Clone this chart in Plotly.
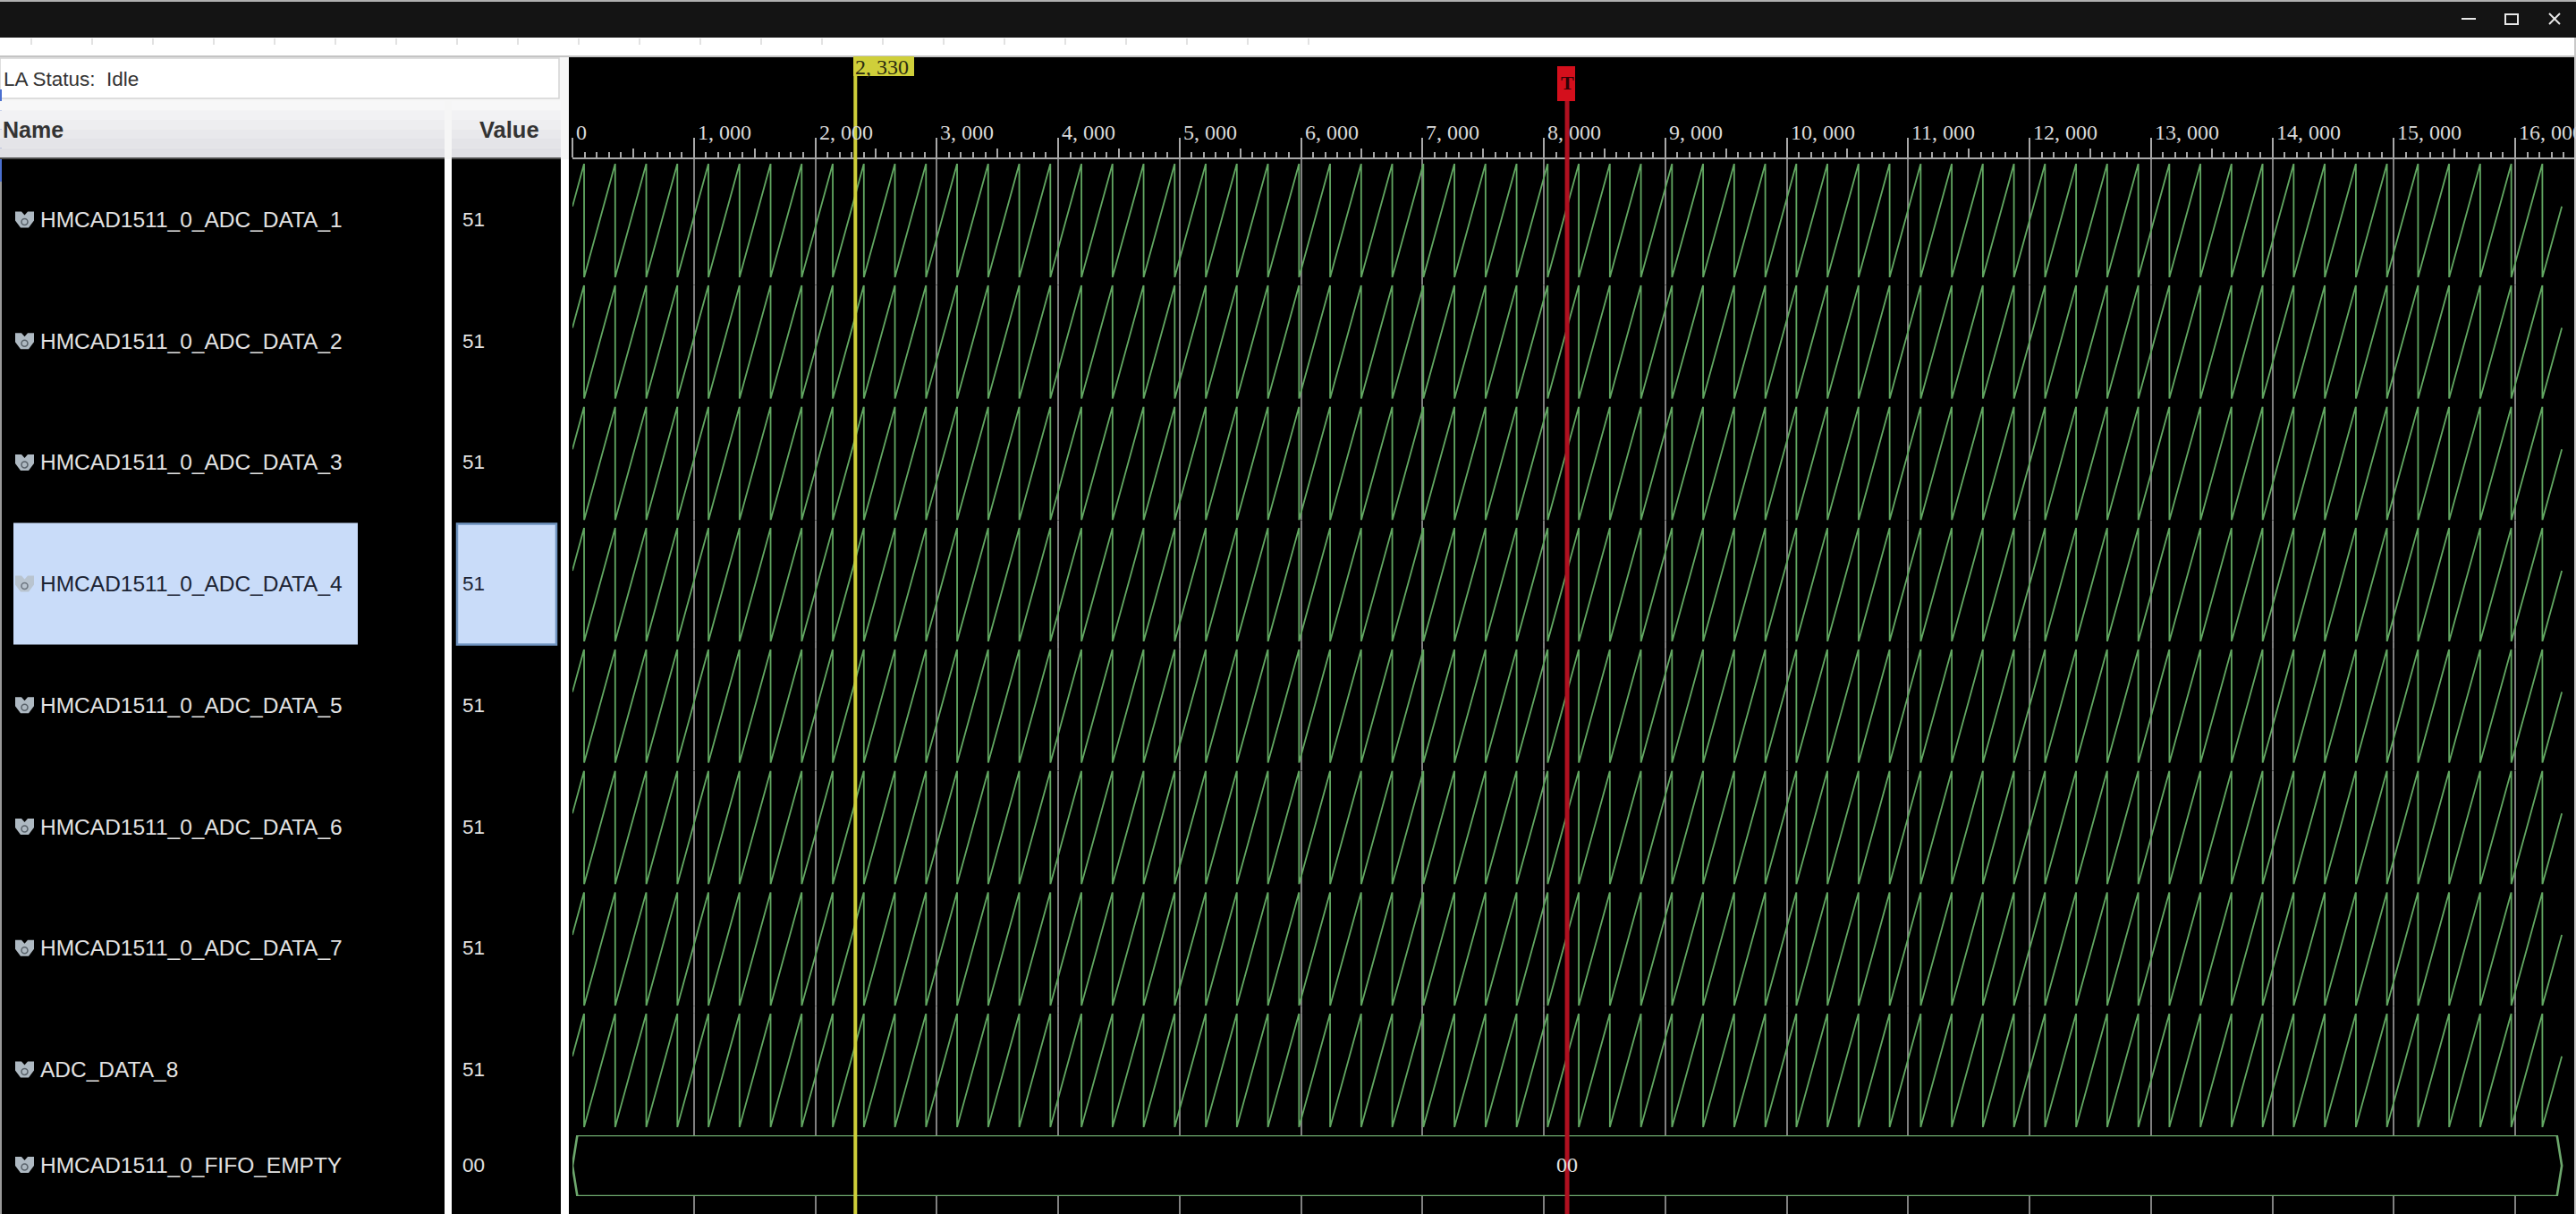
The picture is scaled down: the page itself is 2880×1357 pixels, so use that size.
import plotly.graph_objects as go

W = 2880
H = 1357

# signal table
names = ["HMCAD1511_0_ADC_DATA_1", "HMCAD1511_0_ADC_DATA_2", "HMCAD1511_0_ADC_DATA_3",
         "HMCAD1511_0_ADC_DATA_4", "HMCAD1511_0_ADC_DATA_5", "HMCAD1511_0_ADC_DATA_6",
         "HMCAD1511_0_ADC_DATA_7", "ADC_DATA_8"]
values = ["51", "51", "51", "51", "51", "51", "51", "51"]
bus_name = "HMCAD1511_0_FIFO_EMPTY"
bus_value = "00"
selected_row = 3

# sample index where each ramp tops out
peak_samples = [96, 352, 608, 864, 1120, 1376, 1632, 1888, 2144, 2400, 2656, 2912, 3168, 3424, 3680, 3936,
                4192, 4448, 4704, 4960, 5216, 5472, 5728, 5984, 6240, 6496, 6752, 7008, 7264, 7520, 7776, 8032,
                8288, 8544, 8800, 9056, 9312, 9568, 9824, 10080, 10336, 10592, 10848, 11104, 11360, 11616, 11872, 12128,
                12384, 12640, 12896, 13152, 13408, 13664, 13920, 14176, 14432, 14688, 14944, 15200, 15456, 15712, 15968, 16224]
ramp_top = 255
ramp_bottom = 0
first_sample = 0
first_value = 159
last_sample = 16384
last_value = 159

# ruler
tick_vals = [0, 1000, 2000, 3000, 4000, 5000, 6000, 7000, 8000, 9000, 10000, 11000, 12000, 13000, 14000, 15000, 16000]
tick_labels = ["0", "1, 000", "2, 000", "3, 000", "4, 000", "5, 000", "6, 000", "7, 000", "8, 000", "9, 000",
               "10, 000", "11, 000", "12, 000", "13, 000", "14, 000", "15, 000", "16, 000"]
half_ticks = [500, 1500, 2500, 3500, 4500, 5500, 6500, 7500, 8500, 9500, 10500, 11500, 12500, 13500, 14500, 15500, 16500]
minor_ticks = [v for v in range(100, 16500, 100) if v % 500 != 0]

cursor_sample = 2330
cursor_label = "2, 330"
trigger_sample = 8192

GREEN = "#62a862"
GRID = "#808080"
TEXT = "#e2e2e2"
DARK = "#333333"
YELLOW = "#cfcf3a"
RED = "#b01020"
SERIF = "Liberation Serif"
SANS = "Liberation Sans"

# px position on the screenshot -> paper coords
def px(x):
    return x / W

def py(y):
    return 1 - y / H

def rect(x0, y0, x1, y1, fill, line=None, lw=0):
    return dict(type="rect", xref="paper", yref="paper", x0=px(x0), x1=px(x1), y0=py(y0), y1=py(y1),
                fillcolor=fill, line=dict(color=line or fill, width=lw), layer="above")

def seg(x0, y0, x1, y1, color, lw=2):
    return dict(type="line", xref="paper", yref="paper", x0=px(x0), x1=px(x1), y0=py(y0), y1=py(y1),
                line=dict(color=color, width=lw), layer="above")

def label(x, y, text, size, color, bold=False, font=SANS, anchor="left"):
    return dict(xref="paper", yref="paper", x=px(x), y=py(y), text=f"<b>{text}</b>" if bold else text,
                showarrow=False, xanchor=anchor, yanchor="middle",
                font=dict(family=font, size=size, color=color))

def icon(cy, color, dot):
    pts = [(17, -9), (24, -9), (27.5, -5), (31, -9), (38, -9), (38, 1), (32, 9), (23, 9), (17, 1)]
    path = "M " + " L ".join(f"{px(a)} {py(cy + b)}" for a, b in pts) + " Z"
    return [dict(type="path", xref="paper", yref="paper", path=path, fillcolor=color,
                 line=dict(width=0), layer="above"),
            dict(type="circle", xref="paper", yref="paper", x0=px(24), x1=px(31), y0=py(cy + 6), y1=py(cy - 1),
                 fillcolor=color, line=dict(color=dot, width=1.5), layer="above")]

# screen layout of the rows
row_top = 183
row_height = 127
row_pitch = 135.7
label_y0 = 245.5
bus_top = 1269
bus_bottom = 1337
bus_y = 1302

x_left = 640
x_right = 2878
px_per_sample = 0.13575
x_range = [0, (x_right - x_left) / px_per_sample]

saw_x = [first_sample]
saw_y = [first_value]
for p in peak_samples:
    saw_x += [p, p]
    saw_y += [ramp_top, ramp_bottom]
saw_x.append(last_sample)
saw_y.append(last_value)

fig = go.Figure()

# empty trace so the ruler and the grid have a full height subplot
fig.add_trace(go.Scatter(x=[first_sample], y=[0], mode="markers", marker=dict(opacity=0), xaxis="x", yaxis="y",
                         hoverinfo="skip", showlegend=False))
fig.add_trace(go.Scatter(x=[first_sample], y=[0], mode="markers", marker=dict(opacity=0), xaxis="x2", yaxis="y",
                         hoverinfo="skip", showlegend=False))

layout_axes = {}
for i, name in enumerate(names):
    n = i + 2
    top = row_top + i * row_pitch
    layout_axes[f"yaxis{n}"] = dict(domain=[py(top + row_height), py(top)], range=[ramp_bottom, ramp_top],
                                    anchor="x", visible=False, fixedrange=True)
    fig.add_trace(go.Scatter(x=saw_x, y=saw_y, mode="lines", name=name, xaxis="x", yaxis=f"y{n}",
                             line=dict(color=GREEN, width=1.8), cliponaxis=False, hoverinfo="skip", showlegend=False))

# FIFO_EMPTY bus, one long hexagon
n_bus = len(names) + 2
bus_span = [first_sample, last_sample]
shoulder = 40
bus_x = [bus_span[0], bus_span[0] + shoulder, bus_span[1] - shoulder, bus_span[1], bus_span[1] - shoulder,
         bus_span[0] + shoulder, bus_span[0]]
bus_level = [0.5, 1, 1, 0.5, 0, 0, 0.5]
layout_axes[f"yaxis{n_bus}"] = dict(domain=[py(bus_bottom), py(bus_top)], range=[0, 1], anchor="x",
                                    visible=False, fixedrange=True)
fig.add_trace(go.Scatter(x=bus_x, y=bus_level, mode="lines", fill="toself", fillcolor="#000000",
                         line=dict(color="#6da86d", width=2.6), xaxis="x", yaxis=f"y{n_bus}", cliponaxis=False,
                         hoverinfo="skip", showlegend=False))

# window chrome and the two columns
shapes = [
    rect(0, 0, W, 2, "#b0b0b0"),
    rect(0, 2, W, 42, "#141414"),
    rect(0, 42, W, 63, "#ffffff"),
    rect(0, 62, W, 64, "#c4c4c4"),
    rect(0, 64, 636, 178, "#f6f6f6"),
    rect(0, 65, 625, 110, "#ffffff", "#d4d4d4", 1.5),
    rect(497, 178, 505, H, "#ffffff"),
    rect(627, 178, 636, H, "#ffffff"),
    rect(0, 178, 2, H, "#9a9a9a"),
    rect(2878, 42, W, H, "#c8c8c8"),
    rect(0, 100, 2, 203, "#4a6fd0"),
    seg(2752, 21, 2768, 21, "#e8e8e8"),
    rect(2801, 16, 2815, 27, "#141414", "#e8e8e8", 2),
    seg(2850, 15, 2862, 27, "#e8e8e8"),
    seg(2850, 27, 2862, 15, "#e8e8e8"),
]

# faint marks left in the white strip under the title bar
for bx in range(35, 1470, 68):
    shapes.append(seg(bx, 43, bx, 50, "#d8d8d8", 1.5))

# header gradient, light at the top
head_colors = ["#f7f7f8", "#f2f2f4", "#eeeef0", "#e9e9ec", "#e4e4e8", "#dfdfe4"]
for j, c in enumerate(head_colors):
    y0 = 113 + j * 10.5
    shapes.append(rect(0, y0, 497, y0 + 10.5, c))
    shapes.append(rect(505, y0, 627, y0 + 10.5, c))
shapes.append(rect(0, 176, 497, 178, "#4c4c4c"))
shapes.append(rect(505, 176, 627, 178, "#4c4c4c"))

annotations = [
    label(1.5, 88, "LA Status:&nbsp;&nbsp;Idle", 22.5, DARK),
    label(0.5, 145, "Name", 25, DARK, bold=True),
    label(534, 145, "Value", 25.5, DARK, bold=True),
]

# ruler labels start just right of their tick and sit above it
for v, t in zip(tick_vals, tick_labels):
    annotations.append(dict(xref="x", yref="paper", x=v, y=py(148), text=t, showarrow=False, xanchor="left",
                            yanchor="middle", xshift=2,
                            font=dict(family=SERIF, size=24, color="#dadada")))

for i, name in enumerate(names):
    cy = label_y0 + i * row_pitch
    if i == selected_row:
        shapes.append(rect(15, cy - 68, 400, cy + 68, "#c9dcf9"))
        shapes.append(rect(511, cy - 67, 622, cy + 68, "#c9dcf9", "#6f93bf", 2.5))
        shapes += icon(cy, "#b9c4cf", "#6d7680")
        annotations.append(label(43, cy, name, 24.5, "#1c2434"))
        annotations.append(label(515, cy, values[i], 22.5, "#1c2434"))
    else:
        shapes += icon(cy, "#aeb9c2", "#59626a")
        annotations.append(label(43, cy, name, 24.5, TEXT))
        annotations.append(label(515, cy, values[i], 22.5, TEXT))

shapes += icon(bus_y, "#aeb9c2", "#59626a")
annotations.append(label(43, bus_y, bus_name, 24.5, TEXT))
annotations.append(label(515, bus_y, bus_value, 22.5, TEXT))

# cursor and trigger marker, these sit on the sample axis
shapes.append(rect(954, 63, 1022, 85, YELLOW))
shapes.append(dict(type="line", xref="x", yref="paper", x0=cursor_sample, x1=cursor_sample, y0=0, y1=py(63),
                   line=dict(color=YELLOW, width=4), layer="above"))
shapes.append(dict(type="line", xref="x", yref="paper", x0=trigger_sample, x1=trigger_sample, y0=0, y1=py(113),
                   line=dict(color=RED, width=5), layer="above"))
shapes.append(rect(1741, 74, 1761, 113, "#d40f1c"))
annotations.append(dict(xref="x", yref="paper", x=cursor_sample, y=py(75), text=cursor_label, showarrow=False,
                        xanchor="left", yanchor="middle", xshift=-2,
                        font=dict(family=SERIF, size=24, color="#2b2b10")))
annotations.append(dict(xref="x", yref="paper", x=trigger_sample, y=py(93), text="<b>T</b>", showarrow=False,
                        xanchor="center", yanchor="middle",
                        font=dict(family=SERIF, size=22, color="#2e0206")))
annotations.append(dict(xref="x", yref="paper", x=trigger_sample, y=py(bus_y), text=bus_value, showarrow=False,
                        xanchor="center", yanchor="middle",
                        font=dict(family=SERIF, size=24, color=TEXT)))

fig.update_layout(
    width=W, height=H, autosize=False,
    margin=dict(l=0, r=0, t=0, b=0, pad=0),
    paper_bgcolor="#000000", plot_bgcolor="#000000",
    showlegend=False,
    hovermode=False,
    xaxis=dict(domain=[px(x_left), px(x_right)], range=x_range, side="top", anchor="y", fixedrange=True,
               tickmode="array", tickvals=tick_vals, showticklabels=False,
               ticks="outside", ticklen=22, tickwidth=1.5, tickcolor="#a8a8a8",
               showline=True, linecolor="#a8a8a8", linewidth=2,
               showgrid=True, gridcolor=GRID, gridwidth=1.5, zeroline=False,
               minor=dict(tickmode="array", tickvals=minor_ticks, ticks="outside", ticklen=6,
                          tickwidth=1.5, tickcolor="#a8a8a8", showgrid=False)),
    xaxis2=dict(domain=[px(x_left), px(x_right)], range=x_range, side="top", anchor="y", overlaying="x",
                fixedrange=True, tickmode="array", tickvals=half_ticks, showticklabels=False,
                ticks="outside", ticklen=11, tickwidth=1.5, tickcolor="#a8a8a8", showgrid=False, zeroline=False),
    yaxis=dict(domain=[0, py(178)], range=[0, 1], visible=False, fixedrange=True),
    shapes=shapes,
    annotations=annotations,
    **layout_axes,
)

fig.write_html("out.html", config={"displayModeBar": False},
               post_script="document.body.style.margin='0';document.body.style.overflow='hidden';")
